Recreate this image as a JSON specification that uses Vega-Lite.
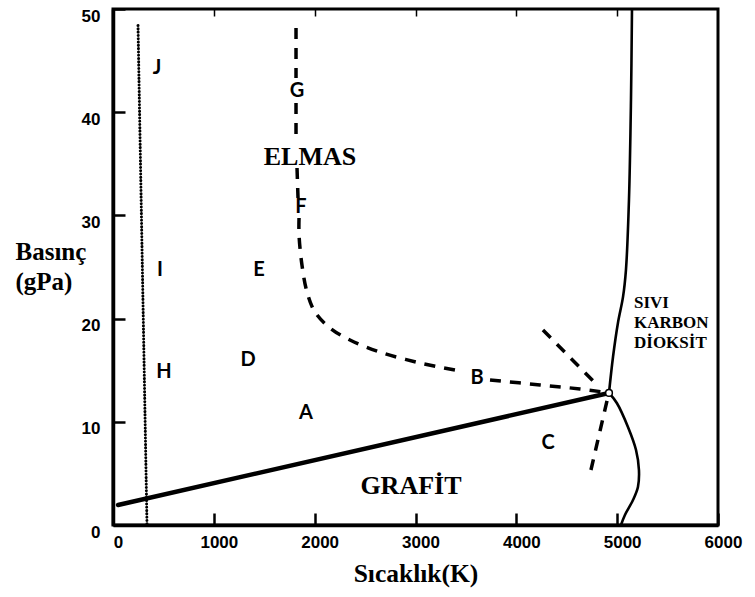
{
  "$schema": "https://vega.github.io/schema/vega-lite/v6.json",
  "width": 605,
  "height": 516,
  "autosize": "none",
  "padding": {"left": 113, "top": 9, "right": 37, "bottom": 72},
  "background": "white",
  "config": {"view": {"stroke": "black", "strokeWidth": 3}, "axis": {"grid": false}},
  "resolve": {"axis": {"x": "independent", "y": "independent"}},
  "datasets": {
    "dotted": [{"T": 337, "P": 0}, {"T": 248, "P": 48.4}],
    "gdline": [{"T": 50, "P": 1.94}, {"T": 4919, "P": 12.79}],
    "melt": [
      {"seg": "diamond", "i": 0, "T": 4919, "P": 12.8},
      {"seg": "diamond", "i": 1, "T": 4959, "P": 16.3},
      {"seg": "diamond", "i": 2, "T": 5008, "P": 19.6},
      {"seg": "diamond", "i": 3, "T": 5058, "P": 22.1},
      {"seg": "diamond", "i": 4, "T": 5087, "P": 24.7},
      {"seg": "diamond", "i": 5, "T": 5117, "P": 31.5},
      {"seg": "diamond", "i": 6, "T": 5137, "P": 41.2},
      {"seg": "diamond", "i": 7, "T": 5147, "P": 50},
      {"seg": "graphite", "i": 0, "T": 4919, "P": 12.8},
      {"seg": "graphite", "i": 1, "T": 4998, "P": 11.8},
      {"seg": "graphite", "i": 2, "T": 5107, "P": 9.5},
      {"seg": "graphite", "i": 3, "T": 5187, "P": 7.27},
      {"seg": "graphite", "i": 4, "T": 5216, "P": 5.33},
      {"seg": "graphite", "i": 5, "T": 5206, "P": 3.68},
      {"seg": "graphite", "i": 6, "T": 5157, "P": 2.42},
      {"seg": "graphite", "i": 7, "T": 5077, "P": 0.97},
      {"seg": "graphite", "i": 8, "T": 5038, "P": 0}
    ],
    "dashed": [
      {"seg": "a", "i": 0, "T": 1815, "P": 48.16},
      {"seg": "a", "i": 1, "T": 1815, "P": 43.31},
      {"seg": "b", "i": 0, "T": 1815, "P": 40.89},
      {"seg": "b", "i": 1, "T": 1815, "P": 37.31},
      {"seg": "c", "i": 0, "T": 1825, "P": 34.59},
      {"seg": "c", "i": 1, "T": 1835, "P": 31.69},
      {"seg": "d", "i": 0, "T": 1845, "P": 29.75},
      {"seg": "d", "i": 1, "T": 1845, "P": 28.1},
      {"seg": "d", "i": 2, "T": 1874, "P": 25.19},
      {"seg": "d", "i": 3, "T": 1924, "P": 22.58},
      {"seg": "d", "i": 4, "T": 2003, "P": 20.64},
      {"seg": "d", "i": 5, "T": 2152, "P": 19.09},
      {"seg": "d", "i": 6, "T": 2350, "P": 17.93},
      {"seg": "d", "i": 7, "T": 2648, "P": 16.76},
      {"seg": "d", "i": 8, "T": 3045, "P": 15.7},
      {"seg": "d", "i": 9, "T": 3441, "P": 14.92},
      {"seg": "e", "i": 0, "T": 3739, "P": 14.05},
      {"seg": "e", "i": 1, "T": 4235, "P": 13.57},
      {"seg": "e", "i": 2, "T": 4631, "P": 13.18},
      {"seg": "e", "i": 3, "T": 4859, "P": 12.89},
      {"seg": "f", "i": 0, "T": 4264, "P": 18.9},
      {"seg": "f", "i": 1, "T": 4810, "P": 13.47},
      {"seg": "g", "i": 0, "T": 4899, "P": 12.02},
      {"seg": "g", "i": 1, "T": 4740, "P": 5.33}
    ],
    "triple": [{"T": 4919, "P": 12.8}],
    "letters": [
      {"T": 436, "P": 44.3, "label": "J"},
      {"T": 1825, "P": 42.1, "label": "G"},
      {"T": 1864, "P": 30.8, "label": "F"},
      {"T": 466, "P": 24.7, "label": "I"},
      {"T": 1448, "P": 24.7, "label": "E"},
      {"T": 506, "P": 14.8, "label": "H"},
      {"T": 1339, "P": 16.0, "label": "D"},
      {"T": 1914, "P": 10.9, "label": "A"},
      {"T": 3610, "P": 14.2, "label": "B"},
      {"T": 4314, "P": 7.9, "label": "C"}
    ],
    "phases": [
      {"T": 1953, "P": 35.7, "label": "ELMAS"},
      {"T": 2955, "P": 3.8, "label": "GRAFİT"}
    ],
    "liquid": [
      {"T": 5167, "P": 21.03, "label": "SIVI"},
      {"T": 5167, "P": 19.09, "label": "KARBON"},
      {"T": 5167, "P": 17.15, "label": "DİOKSİT"}
    ]
  },
  "layer": [
    {
      "data": {"name": "dotted"},
      "mark": {"type": "line", "color": "black", "strokeWidth": 3, "strokeDash": [0.1, 3.2], "strokeCap": "round"},
      "encoding": {
        "x": {
          "field": "T", "type": "quantitative",
          "scale": {"domain": [0, 6000], "nice": false},
          "axis": {
            "orient": "bottom", "values": [0, 1000, 2000, 3000, 4000, 5000, 6000], "format": "d",
            "tickSize": -12, "tickWidth": 2.5, "tickColor": "black",
            "domainColor": "black", "domainWidth": 3.5,
            "labelFont": "Liberation Sans", "labelFontSize": 17, "labelFontWeight": "bold", "labelColor": "black",
            "labelPadding": 21, "labelOffset": 5, "labelFlush": false, "labelOverlap": false,
            "grid": false,
            "title": "Sıcaklık(K)", "titleFont": "Liberation Serif", "titleFontSize": 25.5, "titleFontWeight": "bold",
            "titleColor": "black", "titleY": 56, "titleBaseline": "alphabetic"
          }
        },
        "y": {
          "field": "P", "type": "quantitative",
          "scale": {"domain": [0, 50], "nice": false},
          "axis": {
            "orient": "left", "values": [0, 10, 20, 30, 40, 50], "format": "d",
            "tickSize": -12, "tickWidth": 2.5, "tickColor": "black",
            "domainColor": "black", "domainWidth": 3.5,
            "labelFont": "Liberation Sans", "labelFontSize": 17, "labelFontWeight": "bold", "labelColor": "black",
            "labelPadding": 25, "labelOffset": 7, "labelFlush": false, "labelOverlap": false,
            "grid": false,
            "title": ["Basınç", "(gPa)"], "titleFont": "Liberation Serif", "titleFontSize": 25, "titleFontWeight": "bold",
            "titleColor": "black", "titleAngle": 0, "titleAlign": "left", "titleBaseline": "alphabetic",
            "titleX": -98, "titleY": 250, "titleLineHeight": 30
          }
        }
      }
    },
    {
      "data": {"name": "gdline"},
      "mark": {"type": "line", "color": "black", "strokeWidth": 4.5, "strokeCap": "round"},
      "encoding": {
        "x": {
          "field": "T", "type": "quantitative",
          "axis": {"orient": "top", "values": [1000, 2000, 3000, 4000, 5000], "tickSize": -7, "tickWidth": 1.5, "tickColor": "black", "labels": false, "domain": false, "title": null, "grid": false}
        },
        "y": {"field": "P", "type": "quantitative", "axis": null}
      }
    },
    {
      "data": {"name": "melt"},
      "mark": {"type": "line", "color": "black", "strokeWidth": 2.6, "interpolate": "catmull-rom"},
      "encoding": {
        "x": {"field": "T", "type": "quantitative", "axis": null},
        "y": {"field": "P", "type": "quantitative", "axis": null},
        "detail": {"field": "seg"},
        "order": {"field": "i", "type": "quantitative"}
      }
    },
    {
      "data": {"name": "dashed"},
      "mark": {"type": "line", "color": "black", "strokeWidth": 3.5, "strokeDash": [11, 9], "interpolate": "catmull-rom"},
      "encoding": {
        "x": {"field": "T", "type": "quantitative", "axis": null},
        "y": {"field": "P", "type": "quantitative", "axis": null},
        "detail": {"field": "seg"},
        "order": {"field": "i", "type": "quantitative"}
      }
    },
    {
      "data": {"name": "triple"},
      "mark": {"type": "point", "filled": true, "fill": "white", "stroke": "black", "strokeWidth": 1.5, "size": 45, "opacity": 1},
      "encoding": {
        "x": {"field": "T", "type": "quantitative", "axis": null},
        "y": {"field": "P", "type": "quantitative", "axis": null}
      }
    },
    {
      "data": {"name": "letters"},
      "mark": {"type": "text", "font": "Lato", "fontWeight": "bold", "fontSize": 20, "align": "center", "baseline": "middle", "color": "black"},
      "encoding": {
        "x": {"field": "T", "type": "quantitative", "axis": null},
        "y": {"field": "P", "type": "quantitative", "axis": null},
        "text": {"field": "label"}
      }
    },
    {
      "data": {"name": "phases"},
      "mark": {"type": "text", "font": "Liberation Serif", "fontWeight": "bold", "fontSize": 26, "align": "center", "baseline": "middle", "color": "black"},
      "encoding": {
        "x": {"field": "T", "type": "quantitative", "axis": null},
        "y": {"field": "P", "type": "quantitative", "axis": null},
        "text": {"field": "label"}
      }
    },
    {
      "data": {"name": "liquid"},
      "mark": {"type": "text", "font": "Liberation Serif", "fontWeight": "bold", "fontSize": 17, "align": "left", "baseline": "alphabetic", "color": "black"},
      "encoding": {
        "x": {"field": "T", "type": "quantitative", "axis": null},
        "y": {"field": "P", "type": "quantitative", "axis": null},
        "text": {"field": "label"}
      }
    }
  ]
}
